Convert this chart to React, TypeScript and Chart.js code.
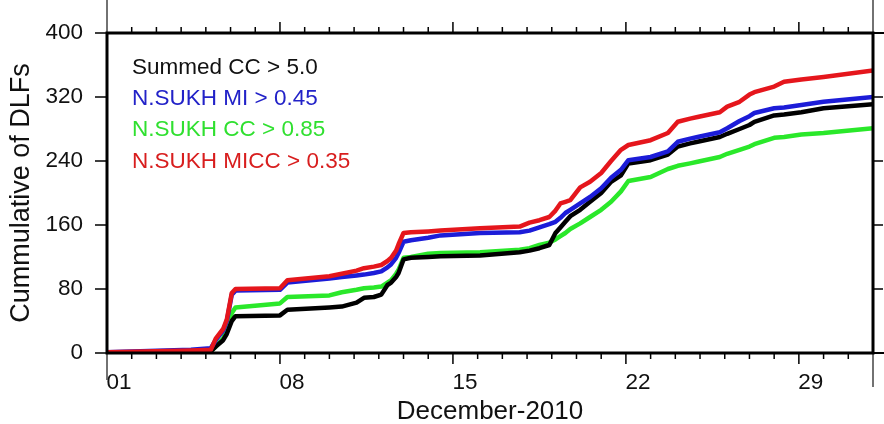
import React, { useEffect, useRef } from 'react';
import { Chart, registerables } from 'chart.js';

Chart.register(...registerables);

// ---- data (day of December 2010, cumulative counts) ----
const days = [1, 4.4, 5.2, 5.4, 5.7, 5.85, 6.05, 6.2, 8.0, 8.3, 10.0, 10.5, 11.1, 11.4, 11.8, 12.1, 12.35, 12.5, 12.7, 12.8, 13.0, 13.3, 14.0, 14.5, 16.1, 17.7, 18.1, 18.5, 18.9, 19.15, 19.35, 19.55, 19.75, 20.15, 20.55, 21.0, 21.4, 21.8, 22.1, 23.0, 23.7, 24.1, 24.6, 24.9, 25.8, 26.1, 26.6, 27.0, 27.2, 28.0, 28.4, 29.1, 30.0, 32];

const summedCC = [0, 1, 2, 8, 16, 24, 40, 46, 47, 54, 57, 58, 63, 69, 70, 73, 85, 88, 95, 100, 117, 119, 120, 121, 122, 126, 128, 131, 135, 150, 157, 164, 171, 179, 189, 200, 214, 222, 237, 241, 248, 258, 262, 264, 270, 274, 280, 285, 289, 297, 298, 301, 306, 311];

const sukhMI = [1, 4, 6, 16, 28, 40, 73, 78, 79, 88, 93, 95, 97, 98, 100, 102, 107, 111, 119, 125, 139, 141, 144, 147, 150, 151, 153, 157, 161, 164, 169, 175, 179, 187, 195, 206, 219, 229, 241, 245, 252, 264, 268, 270, 276, 281, 290, 296, 300, 306, 307, 310, 314, 320];

const sukhCC = [0, 1, 2, 8, 18, 30, 50, 57, 62, 70, 72, 76, 79, 81, 82, 83, 88, 91, 99, 104, 119, 120, 124, 125, 126, 129, 131, 135, 138, 142, 146, 150, 155, 162, 170, 179, 189, 202, 215, 220, 230, 234, 237, 239, 245, 249, 254, 258, 261, 269, 270, 273, 275, 281];

const sukhMICC = [1, 3, 4, 18, 30, 42, 75, 80, 81, 91, 96, 99, 103, 106, 108, 110, 115, 119, 128, 136, 150, 151, 152, 153, 156, 158, 163, 166, 170, 178, 187, 189, 191, 207, 214, 225, 240, 254, 260, 266, 275, 289, 293, 295, 301, 308, 314, 323, 326, 333, 339, 342, 345, 353];

const xTickDays = [1, 8, 15, 22, 29];
const xTickLabels = ['01', '08', '15', '22', '29'];
const seriesLabels = ['Summed CC > 5.0', 'N.SUKH MI > 0.45', 'N.SUKH CC > 0.85', 'N.SUKH MICC > 0.35'];
const seriesColors = ['#000000', '#1c1cd8', '#2ae82a', '#e5161c'];
const legendColors = ['#111111', '#2222c8', '#30e030', '#d81e1e'];

const FONT = '"Liberation Sans", Arial, Helvetica, sans-serif';

const framePlugin = {
  id: 'gmtFrame',
  afterDatasetsDraw(chart: any) {
    const { ctx, chartArea: a, scales } = chart;
    const xs = scales.x;
    const ys = scales.y;
    ctx.save();
    ctx.strokeStyle = '#444';
    ctx.lineWidth = 1.5;
    ctx.beginPath();
    ctx.moveTo(a.left, 0); ctx.lineTo(a.left, a.top);
    ctx.moveTo(a.right, 0); ctx.lineTo(a.right, a.top);
    ctx.moveTo(a.left, a.bottom); ctx.lineTo(a.left, a.bottom + 27);
    ctx.moveTo(a.right, a.bottom); ctx.lineTo(a.right, a.bottom + 34);
    ctx.stroke();

    ctx.strokeStyle = '#000';
    ctx.lineWidth = 1.5;
    ctx.beginPath();
    for (let d = 2; d <= 31; d++) {
      const px = xs.getPixelForValue(d);
      const len = xTickDays.includes(d) ? 11 : 6;
      ctx.moveTo(px, a.bottom); ctx.lineTo(px, a.bottom + len);
      ctx.moveTo(px, a.top); ctx.lineTo(px, a.top - len);
    }
    ys.ticks.forEach((t: any) => {
      const py = ys.getPixelForValue(t.value);
      ctx.moveTo(a.left - 12, py); ctx.lineTo(a.left, py);
      ctx.moveTo(a.right, py); ctx.lineTo(a.right + 10, py);
    });
    ctx.stroke();

    ctx.lineWidth = 3;
    ctx.strokeRect(a.left, a.top, a.right - a.left, a.bottom - a.top);
    ctx.lineWidth = 2;
    ctx.beginPath();
    ctx.moveTo(a.right, a.top); ctx.lineTo(a.right + 11, a.top);
    ctx.moveTo(a.right, a.bottom); ctx.lineTo(a.right + 11, a.bottom);
    ctx.stroke();

    ctx.font = '22.5px ' + FONT;
    ctx.textBaseline = 'middle';
    ctx.textAlign = 'left';
    const ly = [68, 99, 130, 162];
    chart.data.datasets.forEach((ds: any, i: number) => {
      ctx.fillStyle = legendColors[i];
      ctx.fillText(ds.label, a.left + 25, ly[i]);
    });
    ctx.restore();
  },
};

export default function App() {
  const ref = useRef<HTMLCanvasElement>(null);
  useEffect(() => {
    if (!ref.current) return;
    const mk = (i: number, vals: number[], order: number) => ({
      label: seriesLabels[i],
      data: days.map((d, k) => ({ x: d, y: vals[k] })),
      borderColor: seriesColors[i],
      backgroundColor: seriesColors[i],
      borderWidth: 4.5,
      pointRadius: 0,
      tension: 0,
      borderCapStyle: 'round',
      borderJoinStyle: 'round',
      order,
    });
    const chart = new Chart(ref.current, {
      type: 'line',
      data: {
        datasets: [
          mk(0, summedCC, 3),
          mk(1, sukhMI, 2),
          mk(2, sukhCC, 4),
          mk(3, sukhMICC, 1),
        ] as any,
      },
      options: {
        responsive: false,
        animation: false,
        layout: { padding: { top: 33, right: 11, left: 0, bottom: 0 } },
        plugins: { legend: { display: false }, tooltip: { enabled: false } },
        scales: {
          x: {
            type: 'linear',
            min: 1,
            max: 32,
            grid: { display: true, drawOnChartArea: false, drawTicks: true, tickLength: 16, color: 'rgba(0,0,0,0)' },
            border: { display: false },
            afterFit: (s: any) => { s.height = 71; },
            ticks: {
              stepSize: 1,
              autoSkip: false,
              maxRotation: 0,
              minRotation: 0,
              labelOffset: 12,
              padding: 0,
              color: '#111',
              font: { family: FONT, size: 22.5 },
              callback: (v: any) => {
                const idx = xTickDays.indexOf(Number(v));
                return idx >= 0 ? xTickLabels[idx] : '';
              },
            },
            title: {
              display: true,
              text: 'December-2010',
              color: '#111',
              font: { family: FONT, size: 26, lineHeight: 0.9 },
              padding: { top: 0, bottom: 0 },
            },
          },
          y: {
            min: 0,
            max: 400,
            grid: { display: true, drawOnChartArea: false, drawTicks: true, tickLength: 24, color: 'rgba(0,0,0,0)' },
            border: { display: false },
            afterFit: (s: any) => { s.width = 107; },
            ticks: {
              stepSize: 80,
              padding: 0,
              color: '#111',
              font: { family: FONT, size: 22.5 },
            },
            title: {
              display: true,
              text: 'Cummulative of DLFs',
              color: '#111',
              font: { family: FONT, size: 27, lineHeight: 1 },
              padding: { top: 8, bottom: 0 },
            },
          },
        },
      },
      plugins: [framePlugin],
    } as any);
    return () => chart.destroy();
  }, []);
  return (
    <div style={{ position: 'absolute', left: 0, top: 0, width: 884, height: 424, background: '#fff' }}>
      <canvas ref={ref} width={884} height={424} style={{ display: 'block' }} />
    </div>
  );
}
